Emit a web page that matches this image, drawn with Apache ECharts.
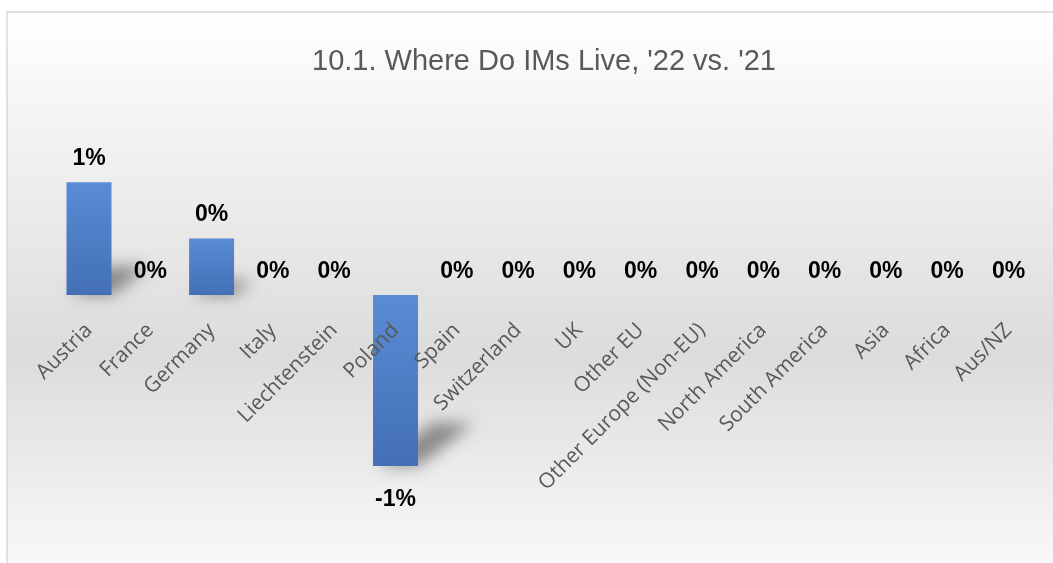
<!DOCTYPE html>
<html>
<head>
<meta charset="utf-8">
<title>10.1. Where Do IMs Live, '22 vs. '21</title>
<script src="https://cdn.jsdelivr.net/npm/echarts@6/dist/echarts.min.js"></script>
<style>
  html, body { margin: 0; padding: 0; background: #ffffff; }
  #chart { width: 1053px; height: 563px; }
</style>
</head>
<body>
<div id="chart"></div>
<script>
// Change in share of respondents by place of residence, 2022 vs 2021
const titleText = "10.1. Where Do IMs Live, '22 vs. '21";
const categories = [
  'Austria', 'France', 'Germany', 'Italy', 'Liechtenstein', 'Poland', 'Spain',
  'Switzerland', 'UK', 'Other EU', 'Other Europe (Non-EU)', 'North America',
  'South America', 'Asia', 'Africa', 'Aus/NZ'
];
const changes = [
  0.0066, 0, 0.0033, 0, 0, -0.01, 0,
  0, 0, 0, 0, 0,
  0, 0, 0, 0
];

const BAR_WIDTH = 45;
const SHADOW_SHIFT = 3000;
const Y_MIN = -0.015;
const Y_MAX = 0.015;

const chart = echarts.init(document.getElementById('chart'), null, { renderer: 'canvas' });

const barGradient = new echarts.graphic.LinearGradient(0, 0, 0, 1, [
  { offset: 0, color: '#5a8bd5' },
  { offset: 1, color: '#4370b5' }
]);

// Soft perspective shadow cast from the foot of each bar towards the upper right
function renderShadow(params, api) {
  const idx = api.value(0);
  const v = api.value(1);
  if (!v) return null;
  const base = api.coord([idx, 0]);
  const end = api.coord([idx, v]);
  const footY = Math.max(base[1], end[1]);
  const h = Math.abs(base[1] - end[1]);
  const sh = h * 0.25;
  const dx = sh * 1.3;
  const x0 = base[0] - BAR_WIDTH / 2 - SHADOW_SHIFT;
  const x1 = base[0] + BAR_WIDTH / 2 - SHADOW_SHIFT;
  return {
    type: 'polygon',
    shape: {
      points: [
        [x0 + 4, footY],
        [x1, footY],
        [x1 + dx, footY - sh],
        [x0 + dx + 4, footY - sh]
      ]
    },
    style: {
      fill: '#000',
      shadowColor: 'rgba(0,0,0,0.42)',
      shadowBlur: 16,
      shadowOffsetX: SHADOW_SHIFT,
      shadowOffsetY: 0
    },
    silent: true
  };
}

chart.setOption({
  animation: false,
  backgroundColor: '#ffffff',
  graphic: [{
    type: 'rect',
    z: -1,
    silent: true,
    shape: { x: 7, y: 12, width: 1070, height: 562 },
    style: {
      fill: new echarts.graphic.LinearGradient(0, 0, 0, 1, [
        { offset: 0, color: '#ffffff' },
        { offset: 0.61, color: '#dcdcdc' },
        { offset: 1, color: '#fafafa' }
      ]),
      stroke: '#d9d9d9',
      lineWidth: 1.5
    }
  }],
  title: {
    text: titleText,
    left: 539,
    top: 42,
    textAlign: 'center',
    textStyle: {
      fontFamily: 'Liberation Sans',
      fontSize: 29,
      fontWeight: 'normal',
      color: '#595959'
    }
  },
  grid: {
    left: 58.35, right: 13.85, top: 38.5, bottom: 11.5,
    containLabel: false,
    outerBoundsMode: 'none'
  },
  xAxis: {
    type: 'category',
    data: categories,
    z: 5,
    offset: 0,
    axisLine: { show: false, onZero: false },
    axisTick: { show: false },
    splitLine: { show: false },
    axisLabel: {
      interval: 0,
      rotate: 45,
      margin: 32,
      fontFamily: 'Open Sans',
      fontSize: 21,
      color: '#595959'
    }
  },
  yAxis: {
    type: 'value',
    show: false,
    min: Y_MIN,
    max: Y_MAX,
    splitLine: { show: false }
  },
  series: [
    {
      type: 'custom',
      z: 1,
      clip: false,
      silent: true,
      renderItem: renderShadow,
      data: changes.map((v, i) => [i, v])
    },
    {
      type: 'bar',
      z: 2,
      barWidth: BAR_WIDTH,
      data: changes.map(v => ({
        value: v,
        label: v < 0 ? { position: 'bottom', distance: 22 } : { position: 'top' }
      })),
      itemStyle: { color: barGradient },
      label: {
        show: true,
        distance: 12,
        formatter: p => Math.round(p.value * 100) + '%',
        fontFamily: 'Liberation Sans',
        fontWeight: 'bold',
        fontSize: 23,
        color: '#000000'
      }
    }
  ]
});

// Hang the category labels from the zero line of the value scale
const zeroY = chart.convertToPixel({ yAxisIndex: 0 }, 0);
const floorY = chart.convertToPixel({ yAxisIndex: 0 }, Y_MIN);
chart.setOption({ xAxis: { offset: zeroY - floorY } });
</script>
</body>
</html>
